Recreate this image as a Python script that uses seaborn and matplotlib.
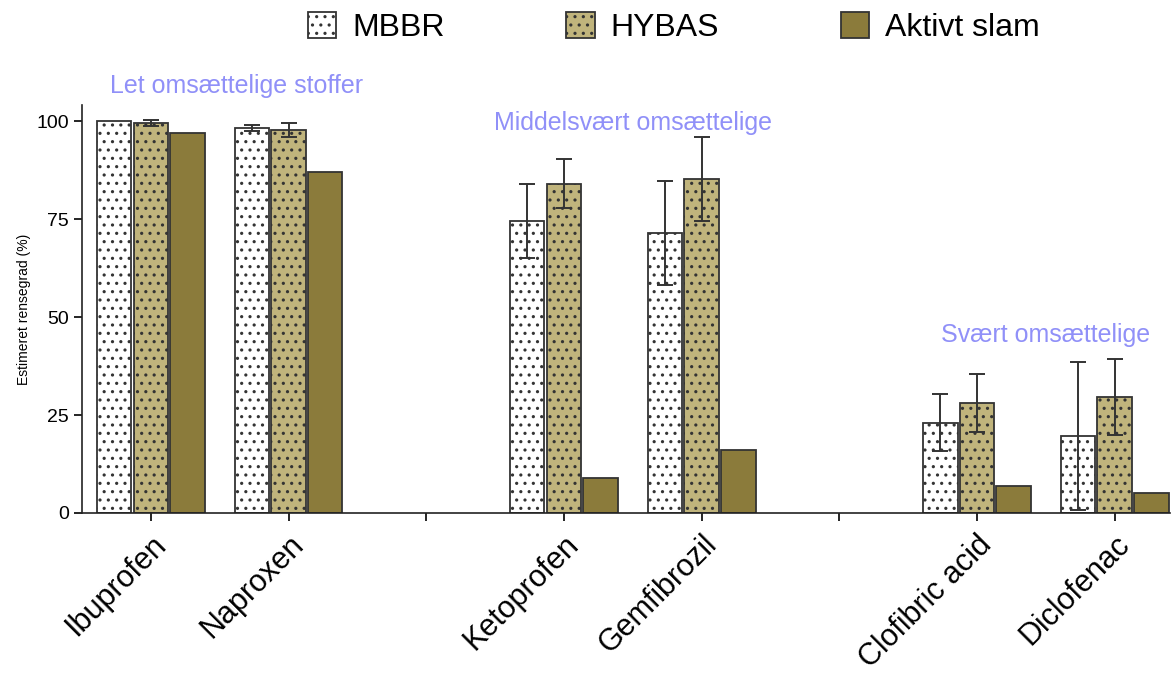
import numpy as np
import pandas as pd
import seaborn as sns
import matplotlib.pyplot as plt
from matplotlib.patches import Patch

##############################################################################

compounds = ["Ibuprofen", "Naproxen", "Ketoprofen", "Gemfibrozil",
             "Clofibric acid", "Diclofenac"]
order = ["Ibuprofen", "Naproxen", "gap1", "Ketoprofen", "Gemfibrozil",
         "gap2", "Clofibric acid", "Diclofenac"]
series = ["MBBR", "HYBAS", "Aktivt slam"]

mbbr = [100.0, 98.2, 74.5, 71.4, 23.0, 19.6]
mbbr_err = [0.0, 0.7, 9.5, 13.2, 7.3, 18.8]
hybas = [99.5, 97.7, 84.0, 85.2, 28.0, 29.6]
hybas_err = [0.7, 1.8, 6.2, 10.8, 7.4, 9.6]
aktivt = [96.9, 87.0, 8.9, 16.0, 6.9, 5.1]

groups = ["Let omsættelige stoffer", "Middelsvært omsættelige", "Svært omsættelige"]

##############################################################################

df = pd.DataFrame({
    "compound": compounds * 3,
    "series": ["MBBR"] * 6 + ["HYBAS"] * 6 + ["Aktivt slam"] * 6,
    "value": mbbr + hybas + aktivt,
    "err": mbbr_err + hybas_err + [0.0] * 6,
})

sns.set_style("ticks")
plt.rcParams['font.family'] = ['Liberation Sans', 'DejaVu Sans']
plt.rcParams['text.color'] = 'black'
plt.rcParams['xtick.color'] = 'black'
plt.rcParams['ytick.color'] = 'black'
plt.rcParams['axes.labelcolor'] = 'black'
plt.rcParams['hatch.linewidth'] = 1.1

colors = {"MBBR": "#ffffff", "HYBAS": "#c0b47c", "Aktivt slam": "#8b7b3b"}
hatches = {"MBBR": "..", "HYBAS": "..", "Aktivt slam": ""}
edge = "#333333"

fig = plt.figure(figsize=(11.76, 6.8), dpi=100)
ax = fig.add_axes([0.0697, 0.2456, 0.925, 0.5994])

sns.barplot(data=df, x="compound", y="value", hue="series", order=order,
            hue_order=series, palette=colors, saturation=1, width=0.8, gap=0.06,
            edgecolor=edge, linewidth=1.3, ax=ax, legend=False)

# hatches + error bars, matched by bar position
for cont, s in zip(ax.containers, series):
    for bar in cont:
        bar.set_hatch(hatches[s])
        cx = bar.get_x() + bar.get_width() / 2
        name = order[int(round(cx))]
        row = df[(df.compound == name) & (df.series == s)]
        e = row.err.values[0]
        if e > 0:
            ax.errorbar(cx, bar.get_height(), yerr=e, fmt="none",
                        ecolor=edge, elinewidth=1.4, capsize=6,
                        capthick=1.4, zorder=5)

ax.set_xlim(-0.5, 7.4)
ax.set_ylim(0, 104)
ax.set_yticks([0, 25, 50, 75, 100])
ax.tick_params(axis="y", labelsize=14, length=6, width=1.2)
ax.tick_params(axis="x", length=6, width=1.2, pad=6)
ax.set_xticks(range(len(order)))
ax.set_xticklabels([c if not c.startswith("gap") else "" for c in order],
                   rotation=45, ha="right", rotation_mode="anchor", fontsize=22)
ax.set_xlabel("")
ax.set_ylabel("Estimeret rensegrad (%)", fontsize=10)
for sp in ["top", "right"]:
    ax.spines[sp].set_visible(False)
for sp in ["left", "bottom"]:
    ax.spines[sp].set_linewidth(1.2)
    ax.spines[sp].set_color("#222222")

# group labels
purple = "#9090f8"
ax.text(0.62, 109, groups[0], color=purple, fontsize=18, ha="center",
        va="center", clip_on=False)
ax.text(3.5, 99.5, groups[1], color=purple, fontsize=18, ha="center", va="center")
ax.text(6.5, 45.5, groups[2], color=purple, fontsize=18, ha="center", va="center")

handles = [Patch(facecolor=colors[s], edgecolor=edge, hatch=hatches[s],
                 linewidth=1.3) for s in series]
fig.legend(handles, series, loc="center", bbox_to_anchor=(0.573, 0.96),
           ncol=3, frameon=False, fontsize=23, handlelength=0.9,
           handleheight=0.9, handletextpad=0.5, columnspacing=3.8)

plt.savefig("out.png", dpi=100)
